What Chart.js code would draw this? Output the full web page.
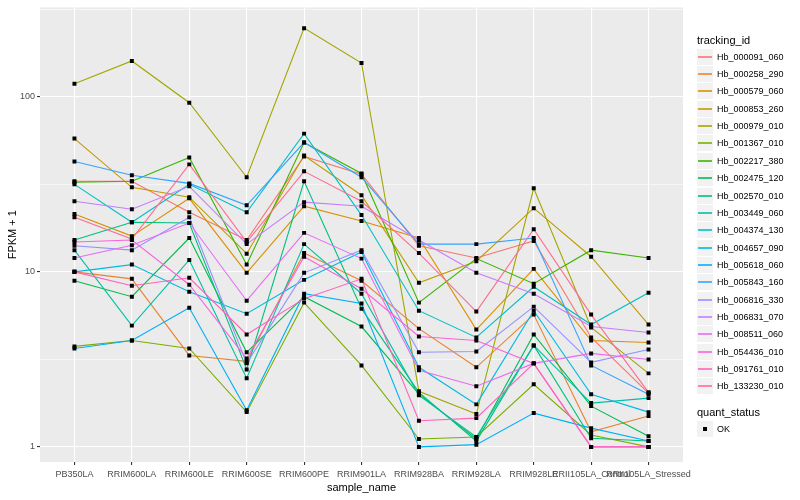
<!DOCTYPE html>
<html>
<head>
<meta charset="utf-8">
<script src="https://cdn.jsdelivr.net/npm/chart.js@4.4.1/dist/chart.umd.min.js"></script>
<style>
body { margin: 0; background: #fff; font-family: "Liberation Sans", Arial, sans-serif; }
#wrap { position: relative; width: 800px; height: 500px; }
#legend { position: absolute; left: 0; top: 0; width: 800px; height: 500px; pointer-events: none; }
.ttl { position: absolute; left: 697px; font-size: 11px; color: #000; line-height: 13px; }
.key { position: absolute; left: 697px; width: 16px; height: 16px; background: #F2F2F2; }
.key i { position: absolute; left: 1px; right: 1px; top: 7px; height: 2px; opacity: 0.8; }
.key b { position: absolute; left: 6px; top: 6px; width: 4px; height: 4px; background: #000; }
.lab { position: absolute; left: 717px; font-size: 9px; line-height: 11px; color: #000; }
</style>
</head>
<body>
<div id="wrap">
  <canvas id="myChart" width="800" height="500"></canvas>
  <div id="legend"></div>
</div>
<script>
const samples = ['PB350LA', 'RRIM600LA', 'RRIM600LE', 'RRIM600SE', 'RRIM600PE', 'RRIM901LA',
  'RRIM928BA', 'RRIM928LA', 'RRIM928LE', 'RRII105LA_Control', 'RRII105LA_Stressed'];

const trackingIds = ['Hb_000091_060', 'Hb_000258_290', 'Hb_000579_060', 'Hb_000853_260', 'Hb_000979_010',
  'Hb_001367_010', 'Hb_002217_380', 'Hb_002475_120', 'Hb_002570_010', 'Hb_003449_060',
  'Hb_004374_130', 'Hb_004657_090', 'Hb_005618_060', 'Hb_005843_160', 'Hb_006816_330',
  'Hb_006831_070', 'Hb_008511_060', 'Hb_054436_010', 'Hb_091761_010', 'Hb_133230_010'];

const colors = ['#F8766D', '#EA8331', '#D89000', '#C09B00', '#A3A500', '#7CAE00', '#39B600', '#00BB4E',
  '#00BF7D', '#00C1A3', '#00BFC4', '#00BAE0', '#00B0F6', '#35A2FF', '#9590FF', '#C77CFF',
  '#E76BF3', '#FA62DB', '#FF62BC', '#FF6C91'];

// FPKM + 1, one value per sample
const hb_000091_060 = [32.9, 32.9, 21.9, 15.2, 45.6, 36.1, 14.1, 12.0, 15.0, 4.22, 2.03];
const hb_000258_290 = [10.0, 9.12, 3.33, 3.08, 12.8, 8.89, 4.74, 2.85, 5.70, 1.22, 1.50];
const hb_000579_060 = [21.4, 16.0, 26.3, 9.87, 23.7, 19.5, 15.6, 4.68, 10.4, 4.05, 3.95];
const hb_000853_260 = [57.7, 30.4, 26.7, 12.7, 46.2, 27.4, 8.66, 11.5, 23.1, 12.2, 5.0];
const hb_000979_010 = [118.6, 160.2, 92.5, 34.7, 246.6, 156, 2.08, 1.54, 30.0, 4.81, 2.63];
const hb_001367_010 = [3.75, 4.05, 3.65, 1.58, 6.67, 2.92, 1.11, 1.14, 2.28, 1.17, 1.0];
const hb_002217_380 = [32.5, 32.9, 45.0, 11.0, 54.8, 36.5, 6.67, 11.9, 8.55, 13.3, 12.0];
const hb_002475_120 = [8.89, 7.21, 15.6, 3.47, 7.21, 4.87, 2.0, 1.11, 4.39, 1.71, 1.15];
const hb_002570_010 = [15.2, 19.2, 19.0, 2.77, 32.9, 6.16, 2.05, 1.08, 3.80, 1.12, 1.08];
const hb_003449_060 = [13.3, 4.93, 11.7, 2.47, 14.4, 7.50, 1.97, 1.14, 3.80, 1.78, 1.90];
const hb_004374_130 = [31.6, 19.2, 31.6, 21.9, 61.6, 21.1, 6.0, 4.22, 8.22, 5.0, 7.60];
const hb_004657_090 = [10.0, 11.0, 7.70, 5.77, 9.0, 13.0, 2.85, 1.75, 6.0, 2.0, 1.58];
const hb_005618_060 = [3.65, 4.05, 6.24, 1.62, 7.50, 6.6, 1.0, 1.03, 1.56, 1.28, 1.08];
const hb_005843_160 = [42.7, 35.6, 32.0, 24.0, 54.8, 34.7, 14.4, 14.4, 15.6, 2.92, 2.0];
const hb_006816_330 = [14.1, 13.3, 20.5, 3.0, 9.87, 13.3, 3.47, 3.51, 6.33, 3.04, 3.60];
const hb_006831_070 = [25.3, 22.8, 30.8, 14.4, 25.0, 23.7, 15.2, 9.87, 7.50, 4.87, 4.50];
const hb_008511_060 = [12.0, 14.2, 19.0, 6.84, 16.7, 11.9, 2.74, 2.22, 3.0, 3.42, 3.16];
const hb_054436_010 = [14.8, 15.2, 8.44, 3.20, 12.2, 8.0, 4.27, 4.05, 3.0, 1.0, 1.0];
const hb_091761_010 = [10.0, 8.33, 9.25, 4.39, 7.03, 9.12, 1.41, 1.46, 3.0, 1.0, 1.0];
const hb_133230_010 = [20.5, 15.4, 41.1, 14.8, 37.5, 25.3, 12.8, 5.93, 17.5, 5.70, 2.05];

const series = [hb_000091_060, hb_000258_290, hb_000579_060, hb_000853_260, hb_000979_010,
  hb_001367_010, hb_002217_380, hb_002475_120, hb_002570_010, hb_003449_060,
  hb_004374_130, hb_004657_090, hb_005618_060, hb_005843_160, hb_006816_330,
  hb_006831_070, hb_008511_060, hb_054436_010, hb_091761_010, hb_133230_010];

const yBreaks = [1, 3.1623, 10, 31.623, 100, 316.23];

function isMajor(v) {
  const l = Math.log10(v);
  return Math.abs(l - Math.round(l)) < 1e-3;
}

function toPoints(vals) {
  return vals.map((v, i) => ({ x: i, y: v }));
}

const lineSets = series.map((vals, i) => ({
  label: trackingIds[i],
  data: toPoints(vals),
  borderColor: colors[i],
  backgroundColor: colors[i],
  borderWidth: 1.1,
  pointRadius: 0,
  tension: 0,
  order: 100 - i
}));

const pointSets = series.map((vals, i) => ({
  label: trackingIds[i] + ' OK',
  data: toPoints(vals),
  showLine: false,
  pointStyle: 'rect',
  pointRadius: 2.8,
  pointBackgroundColor: '#000',
  pointBorderWidth: 0,
  order: 0
}));

const ctx = document.getElementById('myChart').getContext('2d');
const lineChart = new Chart(ctx, {
  type: 'line',
  data: { datasets: lineSets.concat(pointSets) },
  options: {
    responsive: false,
    animation: false,
    events: [],
    layout: { padding: { top: 5, right: 117, left: 0, bottom: 0 } },
    plugins: { legend: { display: false }, tooltip: { enabled: false } },
    scales: {
      x: {
        type: 'linear',
        min: -0.6,
        max: 10.6,
        afterBuildTicks: s => { s.ticks = samples.map((_, i) => ({ value: i })); },
        afterFit: s => { s.height = 38; },
        ticks: {
          callback: v => samples[v],
          autoSkip: false,
          maxRotation: 0,
          minRotation: 0,
          color: '#4D4D4D',
          font: { family: 'Liberation Sans', size: 9 },
          padding: 4
        },
        grid: { color: '#FFFFFF', lineWidth: 1.1, tickLength: 3, tickColor: '#333333' },
        border: { display: false },
        title: {
          display: true,
          text: 'sample_name',
          color: '#000',
          font: { family: 'Liberation Sans', size: 11 },
          padding: { top: 0, bottom: 5 }
        }
      },
      y: {
        type: 'logarithmic',
        min: 0.82,
        max: 324,
        bounds: 'data',
        afterBuildTicks: s => { s.ticks = yBreaks.map(v => ({ value: v })); },
        afterFit: s => { s.width = 40; },
        ticks: {
          callback: v => isMajor(v) ? String(Math.round(v)) : '',
          autoSkip: false,
          color: '#4D4D4D',
          font: { family: 'Liberation Sans', size: 9 },
          padding: 2
        },
        grid: {
          color: '#FFFFFF',
          lineWidth: c => isMajor(c.tick.value) ? 1.1 : 0.55,
          tickLength: 3,
          tickColor: c => isMajor(c.tick.value) ? '#333333' : 'rgba(0,0,0,0)'
        },
        border: { display: false },
        title: {
          display: true,
          text: 'FPKM + 1',
          color: '#000',
          font: { family: 'Liberation Sans', size: 11 },
          padding: { top: 6, bottom: 4 }
        }
      }
    }
  },
  plugins: [{
    id: 'panelBg',
    beforeDraw(chart) {
      const a = chart.chartArea;
      const c = chart.ctx;
      c.save();
      c.fillStyle = '#EBEBEB';
      c.fillRect(a.left, a.top, a.right - a.left, a.bottom - a.top);
      c.restore();
    }
  }]
});

// ggplot-style legend as html text
const legend = document.getElementById('legend');
let html = '<div class="ttl" style="top:34px">tracking_id</div>';
trackingIds.forEach((id, i) => {
  const top = Math.round(56.7 + 17.35 * i - 8);
  html += '<div class="key" style="top:' + top + 'px"><i style="background:' + colors[i] + '"></i></div>';
  html += '<div class="lab" style="top:' + (top + 3) + 'px">' + id + '</div>';
});
html += '<div class="ttl" style="top:406px">quant_status</div>';
html += '<div class="key" style="top:421px"><b></b></div>';
html += '<div class="lab" style="top:424px">OK</div>';
legend.innerHTML = html;
</script>
</body>
</html>
